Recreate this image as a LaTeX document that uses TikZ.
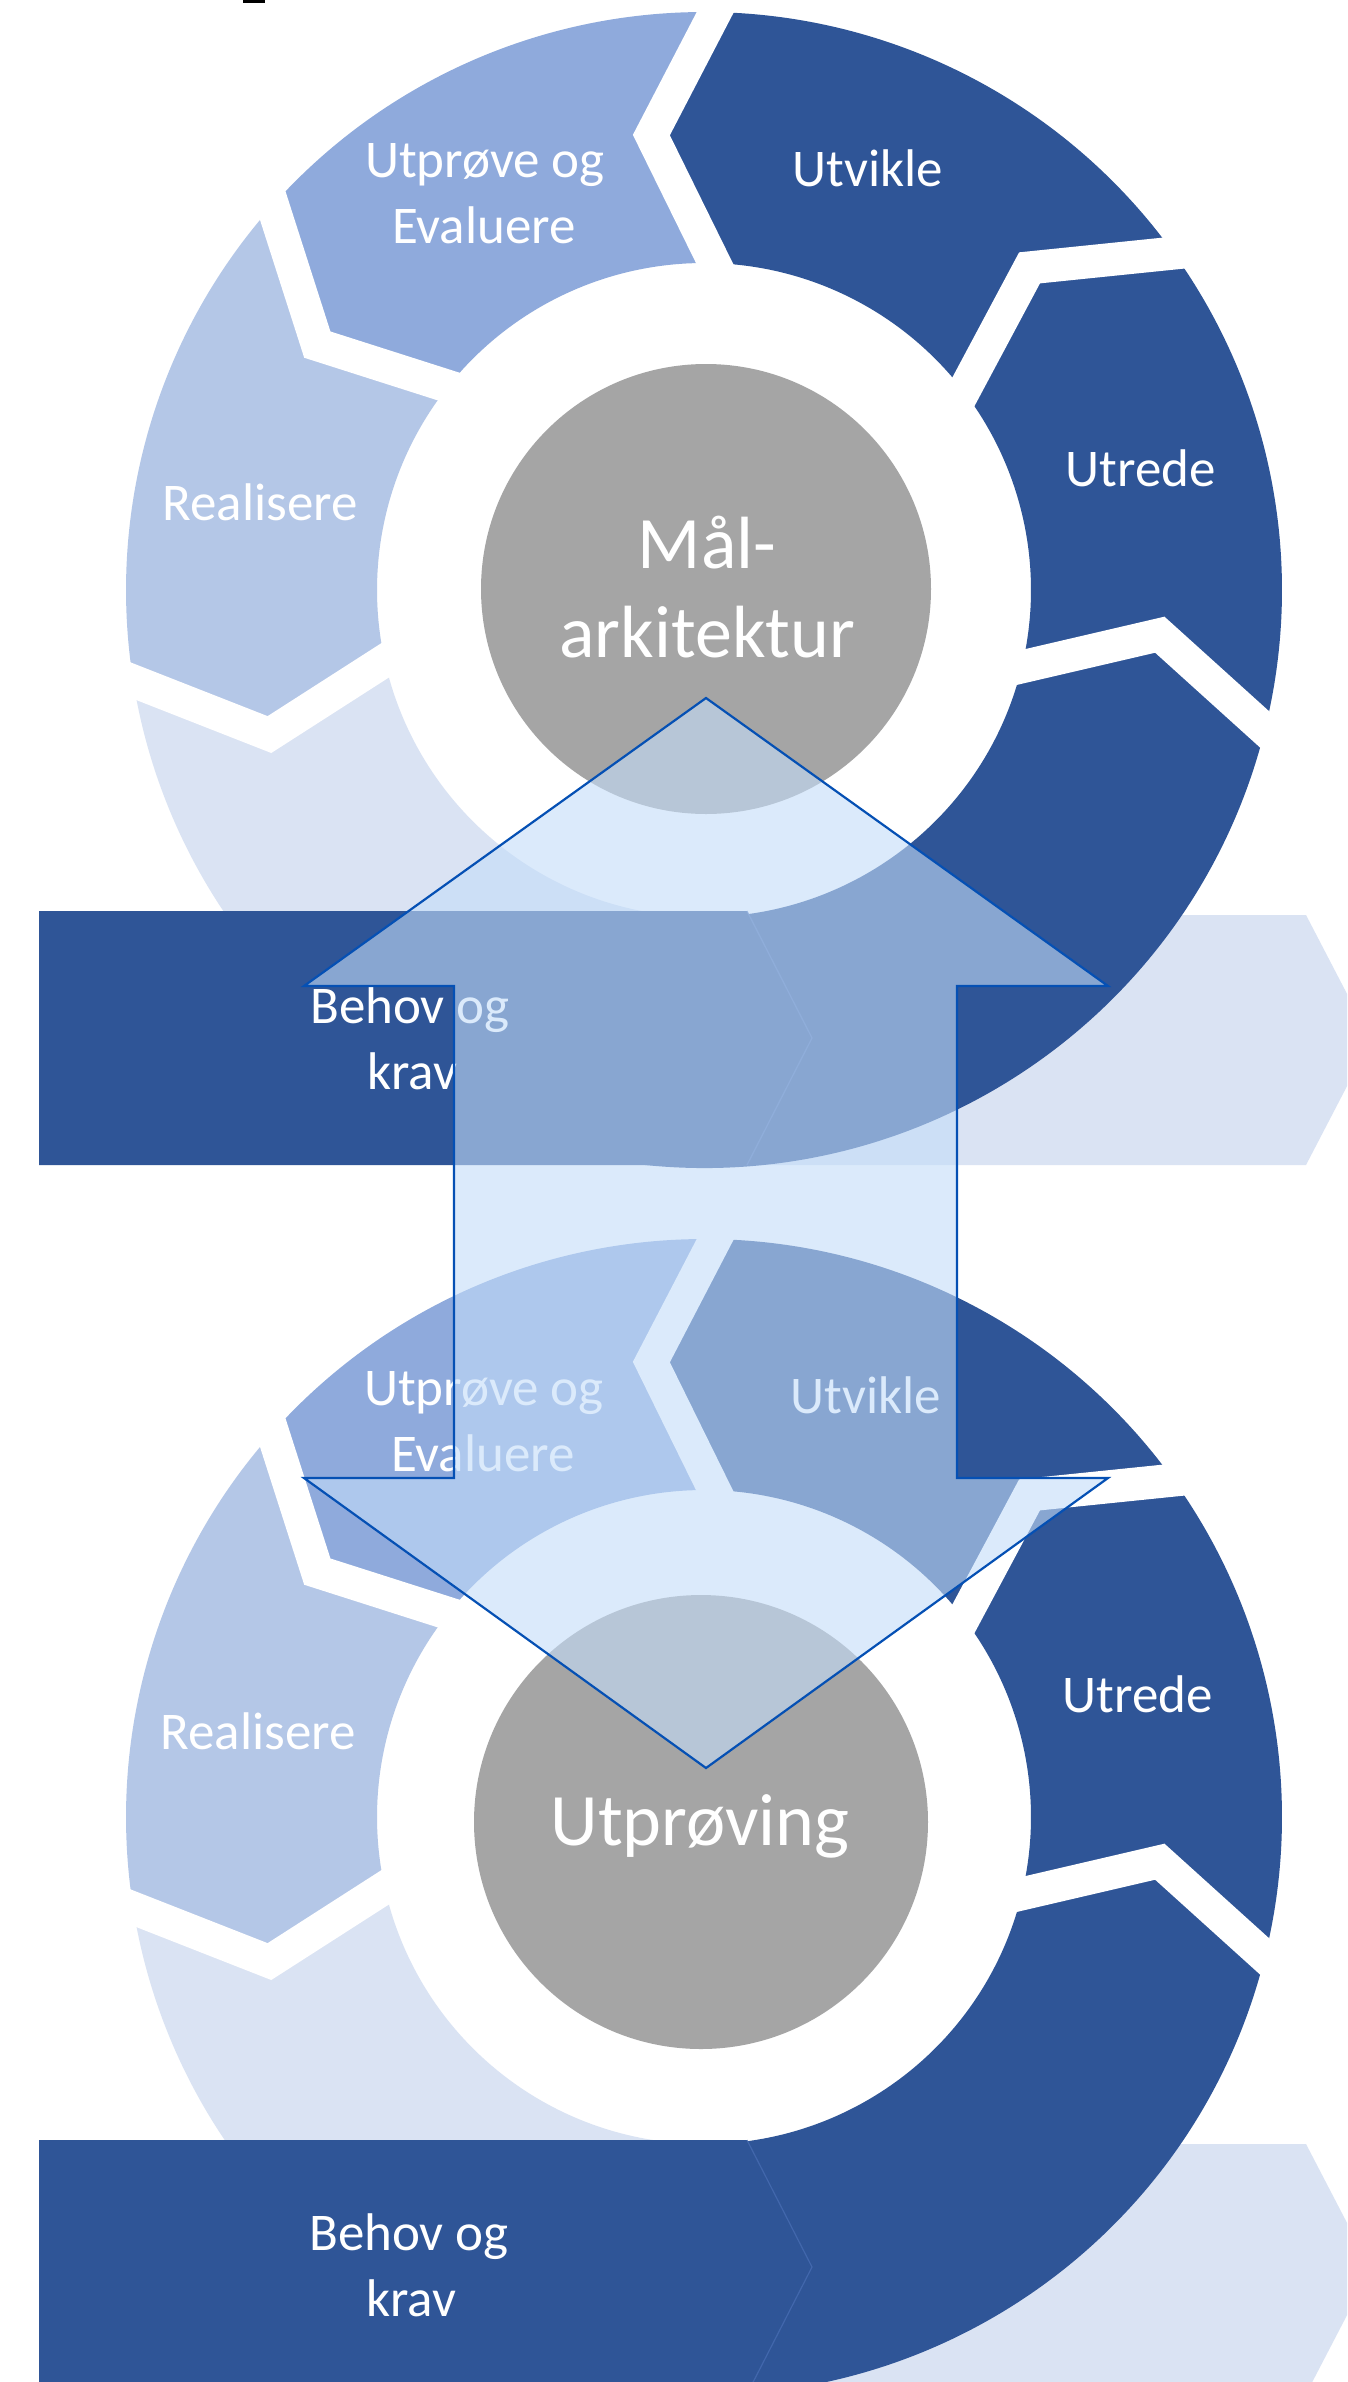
\documentclass[tikz,border=0pt]{standalone}
\usepackage{fontspec}
\setmainfont{Carlito}
\definecolor{darkblue}{HTML}{2F5597}
\definecolor{midblue}{HTML}{8FAADC}
\definecolor{lightblue}{HTML}{B4C7E7}
\definecolor{paleblue}{HTML}{DAE3F3}
\definecolor{hubgray}{HTML}{A5A5A5}
\definecolor{glassfill}{HTML}{C4DDF9}
\definecolor{glassedge}{RGB}{5,80,180}
\definecolor{tipblue}{HTML}{4A6FB5}

% ring geometry (1 unit = 1pt)
\def\RingIn{327}
\def\RingOut{578}
\def\RingMid{458}

% one chevron-ended ring segment:
% centre; start boundary (inner angle, bend angle, outer angle);
% end boundary (inner angle, bend angle, outer angle); colour
\newcommand{\ringseg}[8]{%
  \fill[#8] ([shift={(#2:\RingIn)}]#1) -- ([shift={(#3:\RingMid)}]#1) -- ([shift={(#4:\RingOut)}]#1)
    arc[start angle=#4, end angle=#7, radius=\RingOut]
    -- ([shift={(#6:\RingMid)}]#1) -- ([shift={(#5:\RingIn)}]#1)
    arc[start angle=#5, end angle=#2, radius=\RingIn] -- cycle;}
% white separating gap along a boundary: centre, inner, bend, outer angle
\newcommand{\ringgap}[4]{%
  \draw[gapline] ([shift={(#2:\RingIn-10)}]#1) -- ([shift={(#3:\RingMid)}]#1) -- ([shift={(#4:\RingOut+10)}]#1);}

% full cycle: centre name, vertical offset of the row of boxes
\newcommand{\cycleblock}[2]{%
  % light chevron to the right of the bar
  \fill[paleblue] (747,{-915-#2}) -- (1306,{-915-#2}) -- (1371,{-1040-#2}) -- (1306,{-1165-#2}) -- (747,{-1165-#2}) -- (812,{-1040-#2}) -- cycle;
  \ringseg{#1}{191.8}{198.4}{188.5}{262}{271}{262}{paleblue}
  \ringseg{#1}{-98}{-89}{-98}{-14.5}{-5.6}{-14.5}{darkblue}
  \ringseg{#1}{-14.5}{-5.6}{-14.5}{36.6}{44.7}{35.1}{darkblue}
  \ringseg{#1}{36.6}{44.7}{35.1}{87.2}{96.6}{88.4}{darkblue}
  \ringseg{#1}{87.2}{96.6}{88.4}{140.8}{147.6}{137.7}{midblue}
  \ringseg{#1}{140.8}{147.6}{137.7}{191.8}{198.4}{188.5}{lightblue}
  \ringgap{#1}{-14.5}{-5.6}{-14.5}
  \ringgap{#1}{36.6}{44.7}{35.1}
  \ringgap{#1}{87.2}{96.6}{88.4}
  \ringgap{#1}{140.8}{147.6}{137.7}
  \ringgap{#1}{191.8}{198.4}{188.5}
  % dark start bar
  \fill[darkblue] (39,{-911-#2}) -- (747,{-911-#2}) -- (812,{-1038-#2}) -- (747,{-1165-#2}) -- (39,{-1165-#2}) -- cycle;
  \draw[tipline] (747,{-911-#2}) -- (812,{-1038-#2}) -- (747,{-1165-#2});
}

\begin{document}
\begin{tikzpicture}[x=1pt,y=1pt,
  seglabel/.style={text=white, font=\fontsize{53}{64}\selectfont, inner sep=0pt, anchor=base},
  hublabel/.style={text=white, font=\fontsize{74}{89}\selectfont, inner sep=0pt, anchor=base},
  gapline/.style={white, line width=33pt, line join=miter, miter limit=20},
  tipline/.style={tipblue, line width=1.2pt, opacity=0.7},
  hub/.style={fill=hubgray},
  glass/.style={fill=glassfill, fill opacity=0.6, draw=glassedge, line width=2.2pt, line join=miter}]

\fill[white] (0,0) rectangle (1347,-2382);
\useasboundingbox (0,0) rectangle (1347,-2382);
\clip (0,0) rectangle (1347,-2382);

\coordinate (c1) at (704,-590);
\coordinate (c2) at (704,-1817);

% upper cycle
\cycleblock{c1}{0}
\fill[hub] (706,-589) circle[radius=225];
\node[seglabel] (u-test1) at (485,-177.5) {Utprøve og};
\node[seglabel] (u-test2) at (484,-243) {Evaluere};
\node[seglabel] (u-dev) at (868,-186) {Utvikle};
\node[seglabel] (u-study) at (1141,-486) {Utrede};
\node[seglabel] (u-real) at (260,-520) {Realisere};
\node[seglabel] (u-need1) at (410,-1023) {Behov og};
\node[seglabel] (u-need2) at (412,-1089) {krav};
\node[hublabel] (u-hub1) at (707,-568) {Mål-};
\node[hublabel] (u-hub2) at (707,-657) {arkitektur};

% lower cycle
\cycleblock{c2}{1229}
\fill[hub] (701,-1822) circle[radius=227];
\node[seglabel] (l-test1) at (484,-1405) {Utprøve og};
\node[seglabel] (l-test2) at (483,-1471) {Evaluere};
\node[seglabel] (l-dev) at (866,-1413) {Utvikle};
\node[seglabel] (l-study) at (1138,-1712) {Utrede};
\node[seglabel] (l-real) at (258,-1749) {Realisere};
\node[seglabel] (l-need1) at (409,-2250) {Behov og};
\node[seglabel] (l-need2) at (411,-2316) {krav};
\node[hublabel] (l-hub) at (700,-1845) {Utprøving};

% translucent up-down arrow linking the two hubs
\draw[glass] (706,-698) -- (1108,-986) -- (957,-986) -- (957,-1478) -- (1108,-1478)
  -- (706,-1768) -- (304,-1478) -- (454,-1478) -- (454,-986) -- (304,-986) -- cycle;

% small mark on the top edge
\fill[black] (243,0) rectangle (265,-3);
\end{tikzpicture}
\end{document}
